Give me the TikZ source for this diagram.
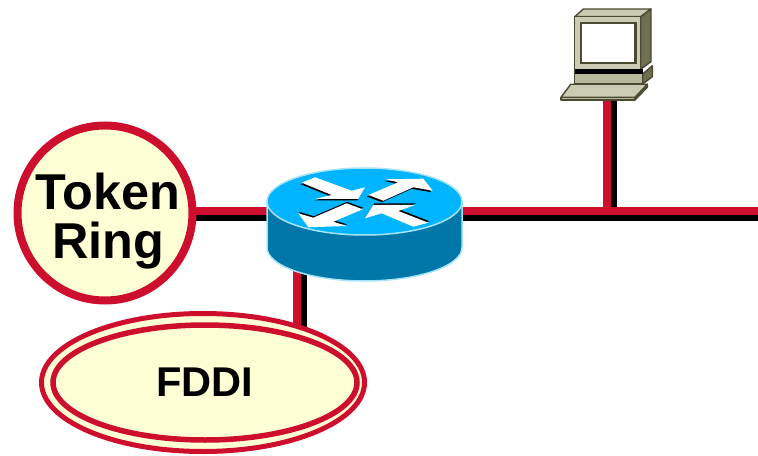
\documentclass[tikz,border=0pt]{standalone}
\usepackage{fontspec}
\setmainfont{Liberation Sans}
\usetikzlibrary{shapes.geometric,backgrounds}
\definecolor{linkred}{HTML}{CE0E2D}
\definecolor{netcream}{HTML}{FFFFD6}
\definecolor{routertop}{HTML}{00B4FF}
\definecolor{routerside}{HTML}{0077A8}
\definecolor{routeredge}{HTML}{A6E3F7}
\definecolor{pclight}{HTML}{CBCBB4}
\definecolor{pcfront}{HTML}{B9B99E}
\definecolor{pcside}{HTML}{6F6F52}
\definecolor{pcedge}{HTML}{4A4A30}
\newcommand{\px}{0.03cm}
\newcommand{\routerarrow}[3]{
   \fill[black,shift={(#1,#2)}] #3 -- cycle;
   \fill[white] #3 -- cycle;
}
\tikzset{
   redlink/.style={linkred,line width=8*\px},
   blacklink/.style={black,line width=6*\px},
   pcpart/.style={draw=pcedge,line width=1.4*\px,line join=round},
   netring/.style={draw=linkred,fill=netcream,outer sep=0pt,inner sep=0pt},
}

\begin{document}
\begin{tikzpicture}[x=\px,y=-\px]
   \useasboundingbox (0,0) rectangle (758,456);
   \coordinate (tap) at (607,211);
   \coordinate (lanend) at (758,211);
   \coordinate (drop) at (297,300);
   % token ring and fddi
   \node[netring,circle,line width=8*\px,minimum size=175*\px] (ring) at (105,213) {};
   \node[align=center,inner sep=0pt,font=\bfseries\fontsize{43}{42.5}\selectfont] (ringtext) at (108,221) {Token\\Ring};
   \node[netring,ellipse,line width=5*\px,minimum width=323*\px,minimum height=138*\px] (fddiouter) at (203,382.5) {};
   \node[netring,ellipse,line width=5.5*\px,minimum width=304*\px,minimum height=115*\px,
         font=\bfseries\fontsize{35.5}{36}\selectfont] (fddi) at (205,382.5) {FDDI};
   % router
   \filldraw[fill=routerside,draw=routeredge,line width=1.5*\px] (267,201.5) -- (267,247.5)
      arc[start angle=180,end angle=0,x radius=97.5,y radius=33.5] -- (462,201.5) -- cycle;
   \node[ellipse,fill=routertop,draw=routeredge,line width=1.5*\px,outer sep=0pt,
         minimum width=195*\px,minimum height=67*\px] (router) at (364.5,201.5) {};
   \routerarrow{-1}{1.5}{(301.7,182.7) -- (315,177.3) -- (351.7,190.7) -- (365,187.3) -- (358.3,199) -- (315,199) -- (331.7,195)}
   \routerarrow{-1.5}{1.5}{(368.3,195) -- (398.3,182.3) -- (385,179.3) -- (423.3,178.7) -- (432.7,190.7) -- (413.3,187.3) -- (383.3,200.7)}
   \routerarrow{0.5}{-1.5}{(298.3,213.3) -- (313.3,217.7) -- (346.7,203.3) -- (362.7,209.3) -- (333.3,221.7) -- (346.7,226) -- (308.3,227.3)}
   \routerarrow{1}{-1.5}{(365,218.3) -- (373.3,205) -- (415,205) -- (398.3,211) -- (428.3,222.7) -- (413.3,226.7) -- (381.7,213.3)}
   % workstation
   \node[inner sep=0pt,minimum size=2*\px] (pc) at (607,92) {};
   \filldraw[pcpart,fill=pclight] (574.7,16.7) -- (583.3,9) -- (651,9) -- (640.7,16.7) -- cycle;
   \filldraw[pcpart,fill=pcside] (640.7,16.7) -- (651,9) -- (651,61.7) -- (640.7,69.3) -- cycle;
   \filldraw[pcpart,fill=pclight] (574.7,16.7) rectangle (640.7,69.3);
   \filldraw[fill=white,draw=pcedge,line width=2.2*\px] (581,23) rectangle (635.5,63);
   \filldraw[pcpart,fill=pcside] (642.7,74) -- (652.3,65.7) -- (652.3,76.7) -- (642.7,84) -- cycle;
   \filldraw[pcpart,fill=pcfront] (574.7,70) rectangle (642.7,84);
   \fill[black] (574.7,69.3) rectangle (642.7,74);
   \filldraw[pcpart,fill=pcside] (635,100) -- (647.3,87.3) -- (647.3,84.3) -- (635,97.3) -- cycle;
   \filldraw[pcpart,fill=pcfront] (561,97.3) rectangle (635,100);
   \filldraw[pcpart,fill=pclight] (570.7,84.3) -- (647.3,84.3) -- (635,97.3) -- (561,97.3) -- cycle;
   % links
   \begin{scope}[on background layer]
      \draw[blacklink,transform canvas={yshift=-7*\px}] (ring |- tap) -- (router.center |- tap) -- (lanend);
      \draw[blacklink,transform canvas={xshift=7*\px}] (pc) -- (tap);
      \draw[blacklink,transform canvas={xshift=7*\px}] (drop |- router) -- (drop |- fddi);
      \draw[redlink] (ring |- tap) -- (router.center |- tap) -- (lanend);
      \draw[redlink] (pc) -- (tap);
      \draw[redlink] (drop |- router) -- (drop |- fddi);
   \end{scope}
\end{tikzpicture}
\end{document}
